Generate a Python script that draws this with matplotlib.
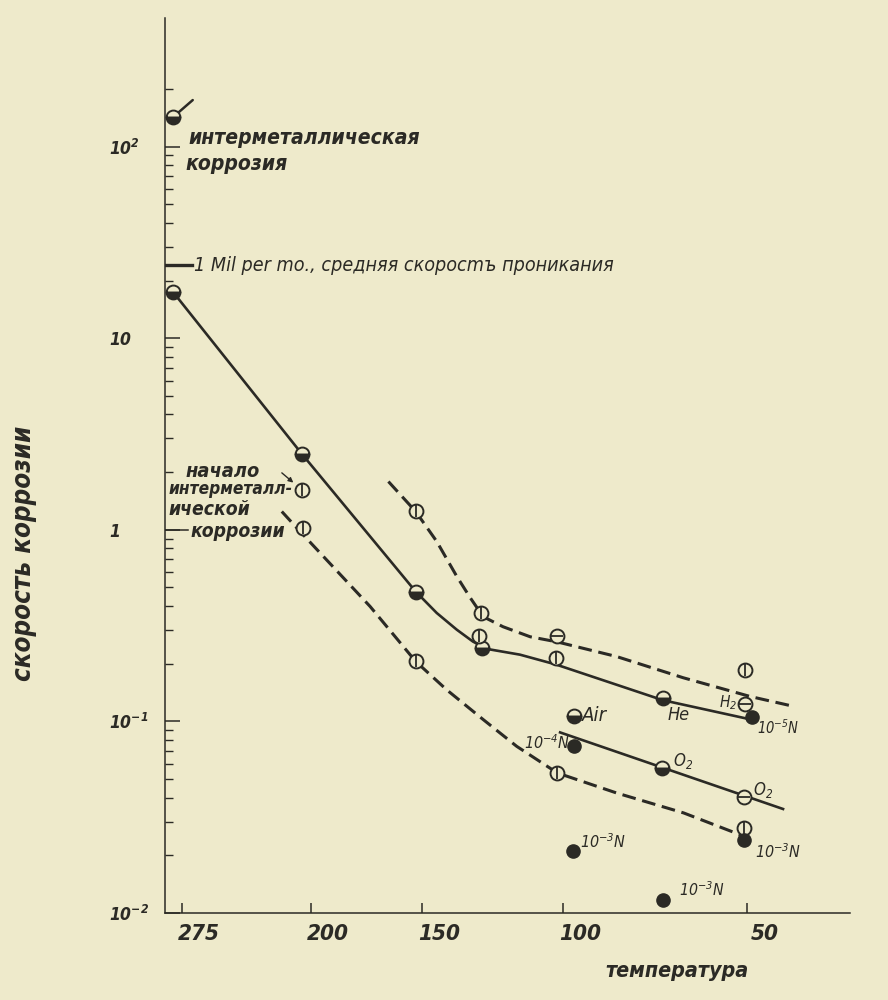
import numpy as np
import matplotlib
matplotlib.use('Agg')
import matplotlib.pyplot as plt
from matplotlib import font_manager, ticker, transforms
from matplotlib.ft2font import FT2Font


def has_cyrillic(path):
    try:
        return 0x0438 in FT2Font(path).get_charmap()
    except Exception:
        return False


# узкий жирный курсив с кириллицей, если такой установлен
def pick_font():
    for f in font_manager.fontManager.ttflist:
        narrow = ('Narrow' in f.name or 'Condensed' in f.name
                  or f.stretch in ('condensed', 'semi-condensed', 'extra-condensed'))
        if not narrow:
            continue
        w = f.weight if isinstance(f.weight, int) else font_manager.weight_dict.get(f.weight, 400)
        if f.style in ('italic', 'oblique') and w >= 600 and has_cyrillic(f.fname):
            return f.name, f.stretch
    return 'DejaVu Sans', 'normal'


FONT, STRETCH = pick_font()

PAPER = '#eeeacb'
INK = '#2b2a25'

plt.rcParams['font.family'] = [FONT, 'DejaVu Sans']
plt.rcParams['font.stretch'] = STRETCH
plt.rcParams['mathtext.fontset'] = 'custom'
plt.rcParams['mathtext.rm'] = FONT + ':italic:stretch=' + STRETCH
plt.rcParams['mathtext.it'] = FONT + ':italic:stretch=' + STRETCH
plt.rcParams['mathtext.bf'] = FONT + ':italic:bold:stretch=' + STRETCH

# --- данные: температура (°C), скорость коррозии ---
# основная (сплошная) кривая
solid_T = [281.3, 204.5, 152.5, 127.2, 102.1, 71.1, 49.0]
solid_v = [17.5, 2.49, 0.476, 0.2415, 0.214, 0.132, 0.106]
solid_kind = ['half', 'half', 'half', 'half', 'vbar', 'half', 'filled']
solid_curve_T = [281.3, 204.5, 152.5, 144.1, 136.4, 130.4, 125.4, 113.9, 102.1, 71.1, 48.9]
solid_curve_v = [17.5, 2.49, 0.476, 0.368, 0.301, 0.261, 0.239, 0.223, 0.198, 0.129, 0.102]

# верхняя штриховая
upper_T = [152.5, 127.6, 128.2, 101.8, 50.5]
upper_v = [1.246, 0.368, 0.278, 0.280, 0.1845]
upper_kind = ['vbar', 'vbar', 'vbar', 'hbar', 'vbar']
upper_curve_T = [163.9, 152.5, 144.1, 136.4, 131.4, 126.7, 119.7, 110.5, 101.8, 83.9, 65.8, 49.4, 40.3]
upper_curve_v = [1.786, 1.246, 0.869, 0.571, 0.442, 0.352, 0.312, 0.2765, 0.260, 0.218, 0.169, 0.135, 0.121]

# нижняя штриховая
lower_T = [203.9, 152.5, 101.7, 50.8]
lower_v = [1.024, 0.2056, 0.0538, 0.0278]
lower_curve_T = [215.0, 205.4, 171.9, 152.5, 140.2, 126.6, 115.0, 101.7, 83.9, 65.7, 51.7]
lower_curve_v = [1.246, 0.980, 0.398, 0.2056, 0.146, 0.102, 0.0741, 0.0538, 0.0423, 0.0333, 0.0256]

# прямая O2
o2_curve_T = [100.85, 41.85]
o2_curve_v = [0.0876, 0.0349]

# отдельные точки с подписями
gas_T = [96.5, 96.5, 71.1, 71.3, 50.8, 50.5, 49.0, 50.8, 96.9, 71.0]
gas_v = [0.107, 0.0741, 0.132, 0.0571, 0.0403, 0.1237, 0.106, 0.0239, 0.0210, 0.01175]
gas_kind = ['half', 'filled', None, 'half', 'hbar', 'hbar', None, 'filled', 'filled', 'filled']
gas_text = ['Air', r'$\mathrm{10^{-4}N}$', 'He', r'$\mathrm{O_2}$', r'$\mathrm{O_2}$', r'$\mathrm{H_2}$',
            r'$\mathrm{10^{-5}N}$', r'$\mathrm{10^{-3}N}$', r'$\mathrm{10^{-3}N}$', r'$\mathrm{10^{-3}N}$']
gas_offset = [(6, 0), (-3, 3), (11, -12), (7.5, 5), (6.5, 5), (-6, 1), (4, -8), (8, -8), (5, 7), (11, 7)]
gas_ha = ['left', 'right', 'center', 'left', 'left', 'right', 'left', 'left', 'left', 'left']
gas_width = [25, 46, 22, 20, 20, 18, 42, 46, 46, 45]

# интерметаллическая коррозия и её начало
top_T, top_v = 281.3, 142.0
onset_T, onset_v = 204.5, 1.617
MIL_RATE = 24.0

x_ticks = [275, 200, 150, 100, 50]
y_ticks = [0.01, 0.1, 1, 10, 100]
y_labels = [r'$\mathbf{10^{-2}}$', r'$\mathbf{10^{-1}}$', r'$\mathbf{1}$', r'$\mathbf{10}$', r'$\mathbf{10^{2}}$']


# шкала 1/T: возрастающая функция, ось развёрнута пределами
def neg_inv_kelvin(t):
    return -1000.0 / (np.asarray(t, float) + 273.15)


def from_neg_inv_kelvin(u):
    with np.errstate(divide='ignore'):
        return -1000.0 / np.asarray(u, float) - 273.15


fig = plt.figure(figsize=(8.88, 10), dpi=100, facecolor=PAPER)
ax = fig.add_axes([165 / 888, 87 / 1000, 685 / 888, 895 / 1000], facecolor=PAPER)
ax.set_xscale('function', functions=(neg_inv_kelvin, from_neg_inv_kelvin))
ax.set_yscale('log')


def draw_markers(T, v, kinds, size=10):
    for t, val, kind in zip(T, v, kinds):
        if kind is None:
            continue
        if kind == 'filled':
            ax.plot(t, val, 'o', ms=size - 0.5, mfc=INK, mec=INK, zorder=5)
        elif kind == 'half':
            ax.plot(t, val, 'o', ms=size, fillstyle='bottom', mfc=INK, mfcalt=PAPER,
                    mec=INK, mew=1.4, zorder=5)
        else:
            ax.plot(t, val, 'o', ms=size, mfc=PAPER, mec=INK, mew=1.4, zorder=5)
            ax.plot(t, val, '|' if kind == 'vbar' else '_', ms=size * 0.9,
                    mec=INK, mew=1.3, zorder=6)


dash = (0, (4.5, 2.2))
ax.plot(solid_curve_T, solid_curve_v, color=INK, lw=1.9, zorder=3)
ax.plot(upper_curve_T, upper_curve_v, color=INK, lw=2.2, ls=dash, zorder=3)
ax.plot(lower_curve_T, lower_curve_v, color=INK, lw=2.2, ls=dash, zorder=3)
ax.plot(o2_curve_T, o2_curve_v, color=INK, lw=1.9, zorder=3)

draw_markers(solid_T, solid_v, solid_kind)
draw_markers(upper_T, upper_v, upper_kind)
draw_markers(lower_T, lower_v, ['vbar'] * len(lower_T))
draw_markers(gas_T, gas_v, gas_kind)
draw_markers([top_T], [top_v], ['half'])
draw_markers([onset_T], [onset_v], ['vbar'])

fitted = []  # (текст, нужная ширина в пикселях)

small = dict(textcoords='offset points', va='center', fontsize=13, color=INK, style='italic')
for t, val, txt, off, ha, w in zip(gas_T, gas_v, gas_text, gas_offset, gas_ha, gas_width):
    fitted.append((ax.annotate(txt, xy=(t, val), xytext=off, ha=ha, **small), w))

big = dict(textcoords='offset points', va='center', color=INK, style='italic', weight='bold')
# штрих над верхней точкой
ax.annotate('', xy=(top_T, top_v), xytext=(14.4, 12.5), textcoords='offset points',
            arrowprops=dict(arrowstyle='-', lw=1.8, color=INK, shrinkA=0, shrinkB=3))
fitted.append((ax.annotate('интерметаллическая', xy=(top_T, top_v), xytext=(11.5, -14.5),
                           ha='left', fontsize=17, **big), 232))
fitted.append((ax.annotate('коррозия', xy=(top_T, top_v), xytext=(9, -33.5),
                           ha='left', fontsize=17, **big), 102))

# начало интерметаллической коррозии
ax.annotate('', xy=(onset_T, onset_v), xytext=(-14.4, 12.2), textcoords='offset points',
            arrowprops=dict(arrowstyle='-|>', lw=1.0, color=INK, shrinkA=0, shrinkB=8,
                            mutation_scale=7))
fitted.append((ax.annotate('начало', xy=(onset_T, onset_v), xytext=(-84, 13.5),
                           ha='left', fontsize=15, **big), 74))
fitted.append((ax.annotate('интерметалл-', xy=(onset_T, onset_v), xytext=(-6.5, 0.5),
                           ha='right', fontsize=15, **big), 124))
fitted.append((ax.annotate('ической', xy=(onset_T, onset_v), xytext=(-96, -14),
                           ha='left', fontsize=15, **big), 82))
fitted.append((ax.annotate('коррозии', xy=(onset_T, onset_v), xytext=(-80, -30),
                           ha='left', fontsize=15, **big), 95))

ymix = ax.get_yaxis_transform()
# удлинённая риска у 1 перед «коррозии»
ax.plot([0, 0.033], [1, 1], transform=ymix, color=INK, lw=1.1)

# уровень 1 mil в месяц
ax.plot([0, 0.04], [MIL_RATE, MIL_RATE], transform=ymix, color=INK, lw=2.4, zorder=4)
fitted.append((ax.text(0.042, MIL_RATE, '1 Mil per mo., средняя скоросmъ проникания',
                       transform=ymix, ha='left', va='center', fontsize=15, color=INK,
                       style='italic'), 420))

# оси
ax.set_xlim(286.7, 27.6)
ax.set_ylim(0.01, 469)
for side in ('top', 'right'):
    ax.spines[side].set_visible(False)
for side in ('left', 'bottom'):
    ax.spines[side].set_linewidth(1.1)
    ax.spines[side].set_color(INK)

ax.set_xticks(x_ticks, labels=[str(t) for t in x_ticks])
ax.xaxis.set_minor_locator(ticker.NullLocator())
ax.tick_params(axis='x', direction='in', length=7, width=1.1, color=INK, pad=8,
               labelsize=18, labelcolor=INK)
for lab in ax.get_xticklabels():
    lab.set_style('italic')
    lab.set_weight('bold')
    lab.set_transform(lab.get_transform() + transforms.ScaledTranslation(0.17, 0, fig.dpi_scale_trans))

minor_vals = [k * 10.0 ** e for e in range(-2, 3) for k in range(2, 10) if k * 10.0 ** e <= 200]
ax.set_yticks(y_ticks, labels=y_labels)
ax.yaxis.set_minor_locator(ticker.FixedLocator(minor_vals))
ax.yaxis.set_minor_formatter(ticker.NullFormatter())
ax.tick_params(axis='y', which='major', direction='in', length=11, width=1.1, color=INK,
               pad=40, labelsize=17, labelcolor=INK)
ax.tick_params(axis='y', which='minor', direction='in', length=6, width=1.0, color=INK)
for lab in ax.get_yticklabels():
    lab.set_horizontalalignment('left')

fitted.append((ax.text(-0.206, 0.402, 'скорость коррозии', rotation=90, transform=ax.transAxes,
                       ha='center', va='center', fontsize=20, color=INK, style='italic',
                       weight='bold'), 256))
fitted.append((ax.text(0.748, -0.065, 'температура', transform=ax.transAxes,
                       ha='center', va='center', fontsize=16, color=INK, style='italic',
                       weight='bold'), 144))

# подгонка кеглей под ширину надписей
fig.canvas.draw()
renderer = fig.canvas.get_renderer()
for txt, width in fitted:
    bb = txt.get_window_extent(renderer)
    span = bb.height if txt.get_rotation() else bb.width
    if span > 0:
        txt.set_fontsize(txt.get_fontsize() * width / span)

xl = ax.get_xticklabels()[1]
k = 42 / xl.get_window_extent(renderer).width
for lab in ax.get_xticklabels():
    lab.set_fontsize(lab.get_fontsize() * k)
yl = ax.get_yticklabels()[1]
k = 39 / yl.get_window_extent(renderer).width
for lab in ax.get_yticklabels():
    lab.set_fontsize(lab.get_fontsize() * k)

fig.savefig('out.png', dpi=100, facecolor=PAPER)
